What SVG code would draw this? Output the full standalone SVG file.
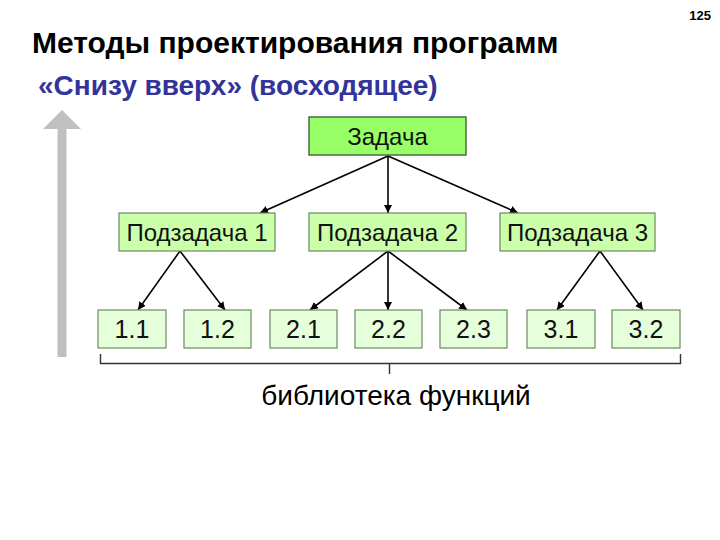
<svg xmlns="http://www.w3.org/2000/svg" width="720" height="540" viewBox="0 0 720 540">
<defs>
<style>
.t{font-family:"Liberation Sans",Arial,sans-serif;}
.top{fill:#99ff66;stroke:#4d6b40;stroke-width:1.5;}
.mid{fill:#ccffaa;stroke:#6b8a60;stroke-width:1.2;}
.leaf{fill:#e6ffdb;stroke:#6b8a60;stroke-width:1.2;}
.lbl{font-family:"Liberation Sans",Arial,sans-serif;font-size:24px;fill:#111;text-anchor:middle;}
.num{font-family:"Liberation Sans",Arial,sans-serif;font-size:25px;fill:#111;text-anchor:middle;}
.con{stroke:#000;stroke-width:1.6;fill:none;marker-end:url(#ah);}
</style>
<marker id="ah" viewBox="0 0 10 10" refX="10" refY="5" markerWidth="8" markerHeight="8" markerUnits="userSpaceOnUse" orient="auto">
<path d="M0,0 L10,5 L0,10 z" fill="#000"/>
</marker>
</defs>
<rect width="720" height="540" fill="#fff"/>
<text class="t" x="711" y="20" font-size="13" font-weight="bold" text-anchor="end">125</text>
<text class="t" x="32" y="53" font-size="30" font-weight="bold" fill="#000">Методы проектирования программ</text>
<text class="t" x="38" y="95" font-size="28" font-weight="bold" fill="#333399">«Снизу вверх» (восходящее)</text>
<g id="bigarrow">
<rect x="57.5" y="128" width="9" height="229" fill="#c0c0c0"/>
<polygon points="43,129 62,110 81,129" fill="#c0c0c0"/>
</g>
<g id="connectors">
<line class="con" x1="388" y1="156" x2="260" y2="213"/>
<line class="con" x1="388" y1="156" x2="388" y2="213"/>
<line class="con" x1="388" y1="156" x2="518" y2="213"/>
<line class="con" x1="180" y1="251" x2="138" y2="310"/>
<line class="con" x1="180" y1="251" x2="225" y2="310"/>
<line class="con" x1="388" y1="251" x2="310" y2="310"/>
<line class="con" x1="388" y1="251" x2="388" y2="310"/>
<line class="con" x1="388" y1="251" x2="467" y2="310"/>
<line class="con" x1="600" y1="251" x2="557" y2="310"/>
<line class="con" x1="600" y1="251" x2="643" y2="310"/>
</g>
<g id="n0"><rect class="top" x="309" y="117" width="157" height="38"/><text class="lbl" x="387.5" y="144.5">Задача</text></g>
<g id="n1"><rect class="mid" x="119" y="213" width="156" height="38"/><text class="lbl" x="197" y="240.5">Подзадача 1</text></g>
<g id="n2"><rect class="mid" x="309" y="213" width="157" height="38"/><text class="lbl" x="387.5" y="240.5">Подзадача 2</text></g>
<g id="n3"><rect class="mid" x="500" y="213" width="155" height="38"/><text class="lbl" x="577.5" y="240.5">Подзадача 3</text></g>
<g id="n11"><rect class="leaf" x="98" y="310" width="68" height="38"/><text class="num" x="132" y="338">1.1</text></g>
<g id="n12"><rect class="leaf" x="184" y="310" width="67" height="38"/><text class="num" x="217.5" y="338">1.2</text></g>
<g id="n21"><rect class="leaf" x="270" y="310" width="67" height="38"/><text class="num" x="303.5" y="338">2.1</text></g>
<g id="n22"><rect class="leaf" x="355" y="310" width="67" height="38"/><text class="num" x="388.5" y="338">2.2</text></g>
<g id="n23"><rect class="leaf" x="440" y="310" width="67" height="38"/><text class="num" x="473.5" y="338">2.3</text></g>
<g id="n31"><rect class="leaf" x="527" y="310" width="68" height="38"/><text class="num" x="561" y="338">3.1</text></g>
<g id="n32"><rect class="leaf" x="612" y="310" width="68" height="38"/><text class="num" x="646" y="338">3.2</text></g>
<g id="bracket">
<path d="M100.5,354 V363.5 H680.5 V354 M389.5,363.5 V374" fill="none" stroke="#333" stroke-width="1.4"/>
<text class="t" x="396" y="405" font-size="28" text-anchor="middle" fill="#000">библиотека функций</text>
</g>
</svg>
